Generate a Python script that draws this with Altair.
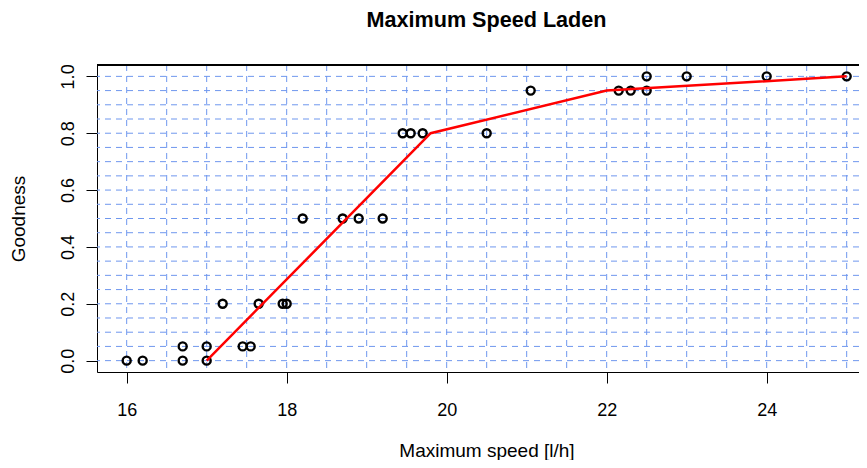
import altair as alt
import pandas as pd

# observed points
speed = [16.0, 16.2, 16.7, 16.7, 17.0, 17.0, 17.2, 17.45, 17.55, 17.65, 17.95, 18.0,
         18.2, 18.7, 18.9, 19.2, 19.45, 19.55, 19.7, 20.5, 21.05, 22.15, 22.3, 22.5,
         22.5, 23.0, 24.0, 25.0]
goodness = [0.0, 0.0, 0.0, 0.05, 0.0, 0.05, 0.2, 0.05, 0.05, 0.2, 0.2, 0.2,
            0.5, 0.5, 0.5, 0.5, 0.8, 0.8, 0.8, 0.8, 0.95, 0.95, 0.95, 0.95,
            1.0, 1.0, 1.0, 1.0]

# fitted piecewise-linear curve
fit_speed = [17.0, 19.8, 22.0, 25.0]
fit_goodness = [0.0, 0.8, 0.95, 1.0]

# tick labels and grid positions
x_ticks = [16, 18, 20, 22, 24]
y_ticks = [0.0, 0.2, 0.4, 0.6, 0.8, 1.0]
grid_x = [16.0, 16.5, 17.0, 17.5, 18.0, 18.5, 19.0, 19.5, 20.0, 20.5, 21.0, 21.5,
          22.0, 22.5, 23.0, 23.5, 24.0, 24.5, 25.0]
grid_y = [0.0, 0.05, 0.1, 0.15, 0.2, 0.25, 0.3, 0.35, 0.4, 0.45, 0.5, 0.55, 0.6,
          0.65, 0.7, 0.75, 0.8, 0.85, 0.9, 0.95, 1.0]

pts = pd.DataFrame({"speed": speed, "goodness": goodness})
fit = pd.DataFrame({"speed": fit_speed, "goodness": fit_goodness})
gx = pd.DataFrame({"gx": grid_x})
gy = pd.DataFrame({"gy": grid_y})

W, H = 762, 307
xscale = alt.Scale(domain=[15.629, 25.154], nice=False, zero=False)
yscale = alt.Scale(domain=[-0.04, 1.04], nice=False, zero=False)
FONT = "Liberation Sans"

xaxis = alt.Axis(values=x_ticks, format="d", title="Maximum speed [l/h]", grid=False,
                 domain=True, domainColor="black", domainWidth=1,
                 tickSize=11, tickColor="black", tickWidth=1,
                 labelFontSize=18, labelColor="black", labelBaseline="alphabetic",
                 labelPadding=32, labelFont=FONT,
                 titleFontSize=19, titleFontWeight="normal", titleColor="black",
                 titleFont=FONT, titleBaseline="alphabetic", titleAlign="center",
                 titleX=389.5, titleY=84)
yaxis = alt.Axis(values=y_ticks, format=".1f", title="Goodness", grid=False,
                 domain=True, domainColor="black", domainWidth=1,
                 tickSize=11, tickColor="black", tickWidth=1,
                 labelFontSize=18, labelColor="black", labelAngle=-90,
                 labelAlign="center", labelBaseline="alphabetic", labelPadding=13,
                 labelFont=FONT,
                 titleFontSize=19, titleFontWeight="normal", titleColor="black",
                 titleFont=FONT, titleAngle=-90, titleBaseline="alphabetic",
                 titleAlign="center", titleX=-73, titleY=H / 2)

grid_color = "#6f97ee"
vgrid = alt.Chart(gx).mark_rule(color=grid_color, strokeWidth=1, strokeDash=[6, 5]).encode(
    x=alt.X("gx:Q", scale=xscale, axis=xaxis)
)
hgrid = alt.Chart(gy).mark_rule(color=grid_color, strokeWidth=1, strokeDash=[6, 5]).encode(
    y=alt.Y("gy:Q", scale=yscale, axis=yaxis)
)
topline = alt.Chart(gx).mark_rule(color="black", strokeWidth=1).encode(
    x=alt.value(0), x2=alt.value(W), y=alt.value(0)
)
points = alt.Chart(pts).mark_point(shape="circle", filled=False, color="black",
                                   size=64, strokeWidth=2.4, opacity=1).encode(
    x=alt.X("speed:Q", scale=xscale, axis=xaxis),
    y=alt.Y("goodness:Q", scale=yscale, axis=yaxis),
)
line = alt.Chart(fit).mark_line(color="#ff0000", strokeWidth=2.5).encode(
    x=alt.X("speed:Q", scale=xscale, axis=xaxis),
    y=alt.Y("goodness:Q", scale=yscale, axis=yaxis),
)

chart = alt.layer(vgrid, hgrid, points, line, topline).properties(
    width=W, height=H,
    autosize=alt.AutoSizeParams(type="none"),
    padding={"left": 89, "top": 57, "right": 0, "bottom": 88},
    title=alt.TitleParams(text="Maximum Speed Laden", anchor="middle", frame="group",
                          fontSize=21.6, fontWeight="bold", font=FONT, color="black",
                          baseline="alphabetic", offset=15, dx=8.5),
).configure_view(stroke=None).configure(background="white")

chart.save("out.html", embed_options={"renderer": "svg", "actions": False})
